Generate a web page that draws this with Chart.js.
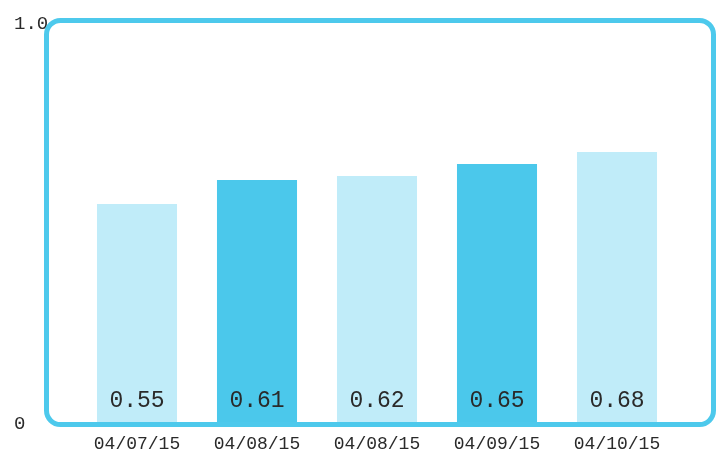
<!DOCTYPE html>
<html>
<head>
<meta charset="utf-8">
<script src="https://cdn.jsdelivr.net/npm/chart.js@4/dist/chart.umd.min.js"></script>
<style>
  html, body { margin: 0; padding: 0; background: #fff; }
  #wrap { width: 721px; height: 456px; }
</style>
</head>
<body>
<div id="wrap"><canvas id="myChart" width="721" height="456"></canvas></div>
<script>
const dates = ["04/07/15", "04/08/15", "04/08/15", "04/09/15", "04/10/15"];
const values = [0.55, 0.61, 0.62, 0.65, 0.68];
const barColors = ["#c0ecf9", "#4bc8eb", "#c0ecf9", "#4bc8eb", "#c0ecf9"];
const yTicks = [0, 1];

const monoFont = "'Liberation Mono', 'DejaVu Sans Mono', monospace";

// rounded frame around the plot
const framePlugin = {
  id: "frame",
  afterDatasetsDraw(chart) {
    const { ctx, chartArea } = chart;
    const x = chartArea.left - 30.5;
    const y = chartArea.top - 3.5;
    const w = chartArea.right + 36.5 - x;
    const h = chartArea.bottom + 0.5 - y;
    ctx.save();
    ctx.strokeStyle = "#4dc9ec";
    ctx.lineWidth = 5;
    ctx.beginPath();
    ctx.roundRect(x, y, w, h, 14);
    ctx.stroke();
    ctx.restore();
  },
};

// value text at the foot of each bar
const valueLabels = {
  id: "valueLabels",
  afterDatasetsDraw(chart) {
    const { ctx } = chart;
    const meta = chart.getDatasetMeta(0);
    ctx.save();
    ctx.font = "23px " + monoFont;
    ctx.fillStyle = "#2a2a2a";
    ctx.textAlign = "center";
    ctx.textBaseline = "middle";
    meta.data.forEach((bar, i) => {
      ctx.fillText(values[i].toFixed(2), bar.x, chart.chartArea.bottom - 23);
    });
    ctx.restore();
  },
};

new Chart("myChart", {
  type: "bar",
  data: {
    labels: dates,
    datasets: [
      {
        data: values,
        backgroundColor: barColors,
        borderWidth: 0,
        categoryPercentage: 1,
        barPercentage: 0.667,
      },
    ],
  },
  options: {
    responsive: false,
    animation: false,
    layout: { padding: { left: 14, right: 44, top: 24, bottom: 0 } },
    plugins: { legend: { display: false }, tooltip: { enabled: false } },
    scales: {
      x: {
        grid: { display: false, drawTicks: false },
        border: { display: false },
        ticks: {
          padding: 9,
          color: "#2a2a2a",
          maxRotation: 0,
          font: { family: monoFont, size: 18 },
        },
        afterFit(scale) { scale.height = 32; },
      },
      y: {
        min: 0,
        max: 1,
        grid: { display: false, drawTicks: false },
        border: { display: false },
        afterBuildTicks(scale) { scale.ticks = yTicks.map((v) => ({ value: v })); },
        ticks: {
          crossAlign: "far",
          color: "#2a2a2a",
          font: { family: monoFont, size: 19 },
          callback: (v) => (v === 0 ? "0" : v.toFixed(1)),
        },
        afterFit(scale) { scale.width = 63; },
      },
    },
  },
  plugins: [framePlugin, valueLabels],
});
</script>
</body>
</html>
